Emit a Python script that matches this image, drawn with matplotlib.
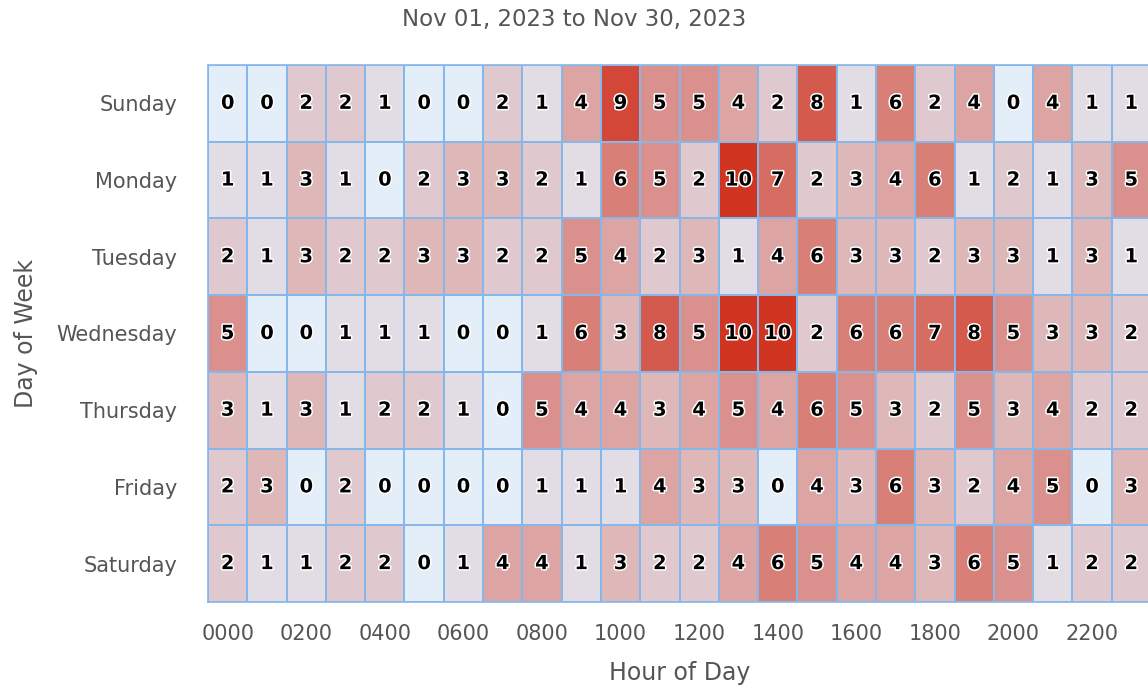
import numpy as np
import matplotlib.pyplot as plt
import matplotlib.patheffects as pe
from matplotlib.colors import LinearSegmentedColormap

days = ["Sunday", "Monday", "Tuesday", "Wednesday", "Thursday", "Friday", "Saturday"]
hour_labels = ["0000", "0200", "0400", "0600", "0800", "1000",
               "1200", "1400", "1600", "1800", "2000", "2200"]

sunday    = [0, 0, 2, 2, 1, 0, 0, 2, 1, 4, 9, 5, 5, 4, 2, 8, 1, 6, 2, 4, 0, 4, 1, 1]
monday    = [1, 1, 3, 1, 0, 2, 3, 3, 2, 1, 6, 5, 2, 10, 7, 2, 3, 4, 6, 1, 2, 1, 3, 5]
tuesday   = [2, 1, 3, 2, 2, 3, 3, 2, 2, 5, 4, 2, 3, 1, 4, 6, 3, 3, 2, 3, 3, 1, 3, 1]
wednesday = [5, 0, 0, 1, 1, 1, 0, 0, 1, 6, 3, 8, 5, 10, 10, 2, 6, 6, 7, 8, 5, 3, 3, 2]
thursday  = [3, 1, 3, 1, 2, 2, 1, 0, 5, 4, 4, 3, 4, 5, 4, 6, 5, 3, 2, 5, 3, 4, 2, 2]
friday    = [2, 3, 0, 2, 0, 0, 0, 0, 1, 1, 1, 4, 3, 3, 0, 4, 3, 6, 3, 2, 4, 5, 0, 3]
saturday  = [2, 1, 1, 2, 2, 0, 1, 4, 4, 1, 3, 2, 2, 4, 6, 5, 4, 4, 3, 6, 5, 1, 2, 2]

data = np.array([sunday, monday, tuesday, wednesday, thursday, friday, saturday])

cmap = LinearSegmentedColormap.from_list("heat", ["#e4eef9", "#d03522"])

fig = plt.figure(figsize=(11.48, 6.85), dpi=100)
ax = fig.add_axes([0.1812, 0.1212, 0.8214, 0.7839])

ax.pcolormesh(data, cmap=cmap, vmin=0, vmax=10, edgecolors="#85b7ea", linewidth=1.2)
ax.set_xlim(0, 24)
ax.set_ylim(7, 0)

# cell values
for r in range(data.shape[0]):
    for c in range(data.shape[1]):
        ax.text(c + 0.5, r + 0.5, str(data[r, c]), ha="center", va="center",
                fontsize=14, fontweight="bold", color="black",
                path_effects=[pe.withStroke(linewidth=2.2, foreground="white")])

ax.set_xticks(np.arange(0, 24, 2) + 0.5)
ax.set_xticklabels(hour_labels)
ax.set_yticks(np.arange(7) + 0.5)
ax.set_yticklabels(days)
ax.tick_params(length=0, labelsize=15, colors="#555555")
ax.tick_params(axis="y", pad=22)
ax.tick_params(axis="x", pad=16)

for s in ax.spines.values():
    s.set_color("#85b7ea")
    s.set_linewidth(1.2)

ax.set_xlabel("Hour of Day", fontsize=17, color="#555555", labelpad=12)
ax.set_ylabel("Day of Week", fontsize=17, color="#555555")
ax.yaxis.set_label_coords(-0.180, 0.5)
fig.text(0.5, 0.972, "Nov 01, 2023 to Nov 30, 2023", ha="center", va="center",
         fontsize=16.5, color="#555555")

fig.savefig("out.png", dpi=100)
